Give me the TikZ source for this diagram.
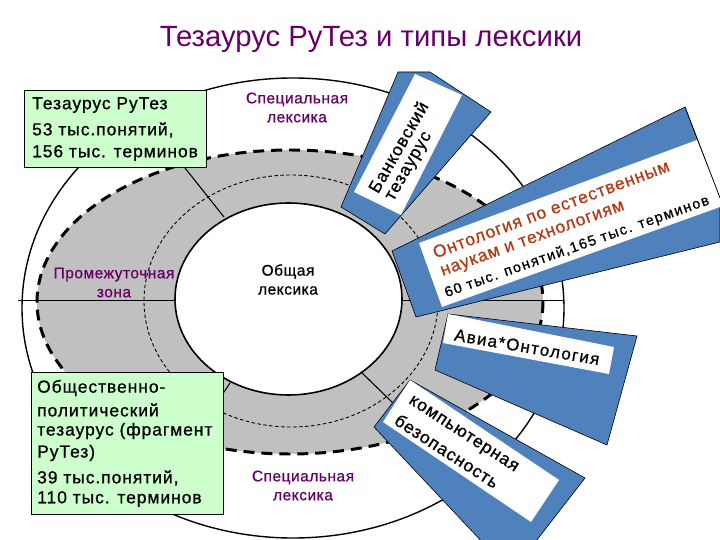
\documentclass[tikz,border=0pt]{standalone}
\usepackage{fontspec}
\setmainfont{Liberation Sans}
\newfontfamily\sbA[FakeBold=0.8,LetterSpace=3.5]{Liberation Sans}
\newfontfamily\sbAA[FakeBold=0.8,LetterSpace=5]{Liberation Sans}
\newfontfamily\sbB[FakeBold=0.8,LetterSpace=5.5]{Liberation Sans}
\newfontfamily\sbC[FakeBold=0.8,LetterSpace=8]{Liberation Sans}
\newfontfamily\sbD[FakeBold=0.8,LetterSpace=10]{Liberation Sans}
\definecolor{ribbon}{HTML}{4F81BD}
\definecolor{greenbox}{HTML}{CCFFCC}
\definecolor{ring}{HTML}{C0C0C0}
\definecolor{plum}{HTML}{660066}
\definecolor{rust}{HTML}{B23C17}
\tikzset{
  outline/.style={draw=black,line width=1.4pt},
  ribbonshape/.style={draw=black,line width=0.6pt,fill=ribbon},
  ribbonwhite/.style={fill=white,draw=none},
  gbox/.style={draw=black,line width=0.8pt,fill=greenbox},
  lbl/.style={font=\fontsize{15.5}{19}\selectfont\sbA,align=center,inner sep=0pt},
  boxtext/.style={anchor=west,inner sep=0pt,font=\fontsize{17.5}{20}\selectfont\sbB},
  ribbontext/.style={inner sep=0pt,font=\fontsize{17.5}{20}\selectfont\sbB},
}
\begin{document}
\begin{tikzpicture}[x=1bp,y=-1bp]
\clip (0,0) rectangle (720,540);
\fill[white] (0,0) rectangle (720,540);
% rings
\draw[outline,fill=white] (293,308) ellipse [x radius=271,y radius=230];
\coordinate (hlL) at (18,300); \coordinate (hlLe) at (175,300);
\coordinate (hlR) at (402,300); \coordinate (hlRe) at (563,300);
\fill[ring] (290,302) ellipse [x radius=253,y radius=152];
\draw[black,line width=3pt,dash pattern=on 11pt off 7pt] (290,302) ellipse [x radius=253,y radius=152];
\draw[black,line width=0.9pt,dash pattern=on 3.5pt off 2.5pt] (291,301) ellipse [x radius=147,y radius=126];
\draw[outline,line width=1.6pt,fill=white] (288.5,299) ellipse [x radius=113.5,y radius=96];
\draw[black,line width=0.7pt] (hlL) -- (hlLe);
\draw[black,line width=0.7pt] (hlR) -- (hlRe);
\coordinate (d1a) at (185,168); \coordinate (d1b) at (224,217);
\coordinate (d2a) at (230,383); \coordinate (d2b) at (222,395);
\coordinate (d3a) at (361,372); \coordinate (d3b) at (393,403);
\draw[black,line width=1.1pt] (d1a) -- (d1b);
\draw[black,line width=1.1pt] (d2a) -- (d2b);
\draw[black,line width=1.1pt] (d3a) -- (d3b);
% ring labels
\node[lbl,text=plum] (spec1) at (297,107.5) {Специальная\\лексика};
\node[lbl] (common) at (288,279.5) {Общая\\лексика};
\node[lbl,text=plum] (inter) at (114,282.5) {Промежуточная\\зона};
\node[lbl,text=plum] (spec2) at (303,485.5) {Специальная\\лексика};
% bank ribbon
\draw[ribbonshape] (398,72) -- (430,72) -- (491,112) -- (385,234) -- (341,207) -- cycle;
\fill[ribbonwhite] (415,74) -- (462,95) -- (401,215) -- (354,192) -- cycle;
\node[ribbontext,rotate=60] (bank1) at (398,147) {Банковский};
\node[ribbontext,rotate=60] (bank2) at (410,167) {тезаурус};
% ontology ribbon
\draw[ribbonshape] (392,251) -- (685,107) -- (720,198) -- (720,242) -- (416,317) -- cycle;
\fill[ribbonwhite] (419,243) -- (697,140) -- (720,198) -- (720,207) -- (442,307) -- cycle;
\draw[black,line width=0.6pt] (685,107) -- (720,198);
\node[ribbontext,text=rust,rotate=20.5,font=\fontsize{17.5}{20}\selectfont\sbB] (onto1) at (551,209) {Онтология по естественным};
\node[ribbontext,text=rust,rotate=20,font=\fontsize{17.5}{20}\selectfont\sbAA] (onto2) at (533,240) {наукам и технологиям};
\node[ribbontext,rotate=19.5,font=\fontsize{14.5}{17}\selectfont\sbD] (onto3) at (577,247) {60 тыс. понятий,165 тыс. терминов};
% avia ribbon
\draw[ribbonshape] (448,314) -- (637,336) -- (607,445) -- (435,370) -- cycle;
\fill[ribbonwhite] (448,314) -- (614,347) -- (609,374) -- (443,343) -- cycle;
\node[ribbontext,rotate=-9.7,font=\fontsize{17}{19}\selectfont\sbC] (avia) at (527,347) {Авиа*Онтология};
% security ribbon
\draw[ribbonshape] (410,380) -- (585,478) -- (533,545) -- (485,545) -- (374,427) -- cycle;
\fill[ribbonwhite] (410,380) -- (559,480) -- (531,522) -- (383,422) -- cycle;
\node[ribbontext,rotate=-33] (sec1) at (463,435) {компьютерная};
\node[ribbontext,rotate=-33] (sec2) at (447,451) {безопасность};
% green boxes
\draw[gbox] (24,90) rectangle (206,167);
\node[boxtext] (b1a) at (32,105) {Тезаурус РуТез};
\node[boxtext] (b1b) at (32,130) {53 тыс.понятий,};
\node[boxtext] (b1c) at (32,153) {156 тыс. терминов};
\draw[gbox] (31,372) rectangle (223,514);
\node[boxtext] (b2a) at (37,388) {Общественно-};
\node[boxtext] (b2b) at (37,410) {политический};
\node[boxtext] (b2c) at (37,431) {тезаурус (фрагмент};
\node[boxtext] (b2d) at (37,453) {РуТез)};
\node[boxtext] (b2e) at (37,478) {39 тыс.понятий,};
\node[boxtext] (b2f) at (37,499) {110 тыс. терминов};
% title
\node[inner sep=0pt,text=plum,font=\fontsize{29.4}{32}\selectfont] (title) at (371,39) {Тезаурус РуТез и типы лексики};
\end{tikzpicture}
\end{document}
